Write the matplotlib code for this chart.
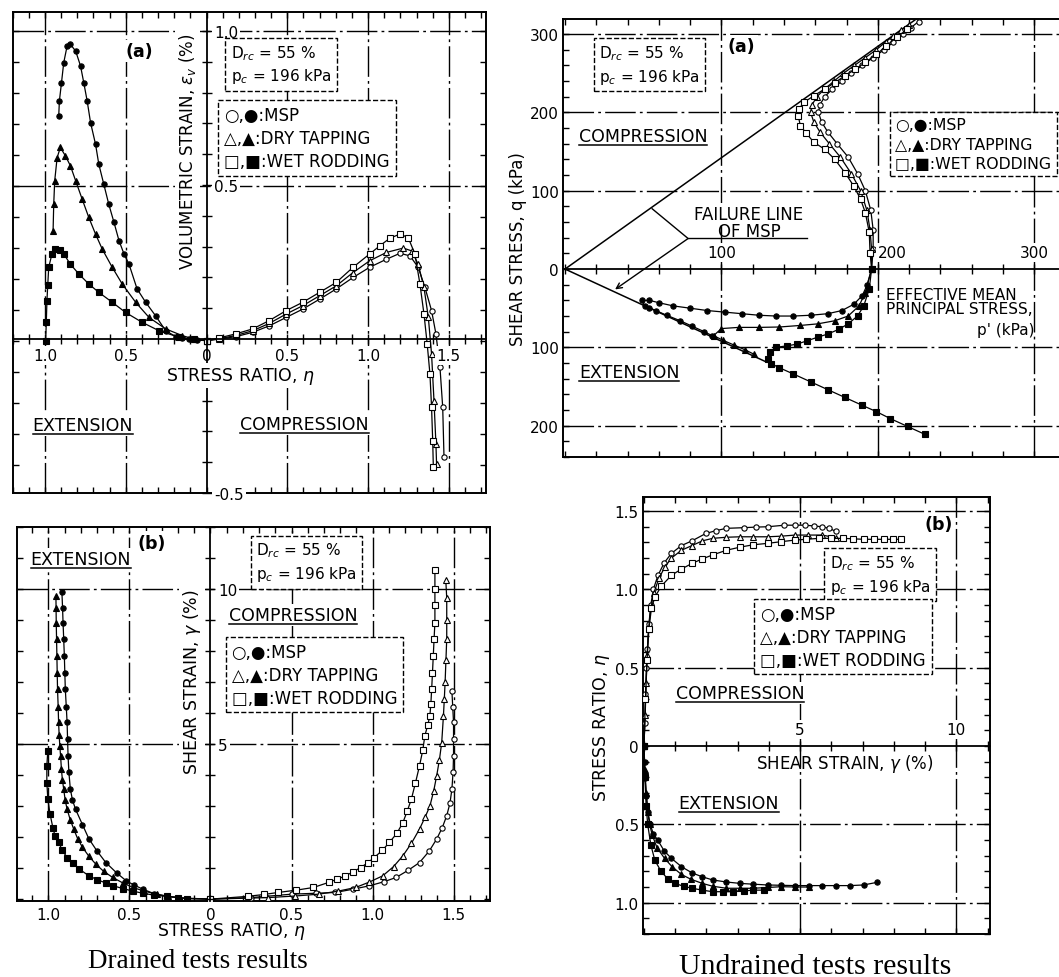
import numpy as np
import matplotlib.pyplot as plt
from matplotlib.ticker import MultipleLocator
from matplotlib.lines import Line2D

plt.rcParams['font.family'] = ['DejaVu Sans']
plt.rcParams['mathtext.fontset'] = 'dejavusans'

# ---------------- drained (a): stress ratio eta vs volumetric strain (%) ----------------
# extension branches have eta < 0 (filled symbols), compression eta > 0 (open symbols)
dv_msp_ext = np.array([(0, 0), (-0.06, 0.002), (-0.108, 0.005), (-0.15, 0.009), (-0.19, 0.013),
                       (-0.253, 0.032), (-0.315, 0.08), (-0.377, 0.124), (-0.43, 0.167), (-0.48, 0.247),
                       (-0.511, 0.28), (-0.542, 0.323), (-0.573, 0.382), (-0.605, 0.44), (-0.636, 0.505),
                       (-0.667, 0.57), (-0.687, 0.634), (-0.718, 0.704), (-0.739, 0.774), (-0.76, 0.833),
                       (-0.78, 0.887), (-0.81, 0.935), (-0.843, 0.957), (-0.863, 0.952), (-0.884, 0.898),
                       (-0.898, 0.833), (-0.911, 0.774), (-0.915, 0.726)])
dv_dt_ext = np.array([(0, 0), (-0.07, 0.004), (-0.149, 0.016), (-0.253, 0.038), (-0.356, 0.075),
                      (-0.439, 0.124), (-0.522, 0.183), (-0.584, 0.237), (-0.646, 0.296), (-0.687, 0.344),
                      (-0.729, 0.398), (-0.77, 0.457), (-0.81, 0.516), (-0.843, 0.565), (-0.874, 0.597),
                      (-0.905, 0.624), (-0.925, 0.591), (-0.94, 0.516), (-0.946, 0.441), (-0.95, 0.355)])
dv_wr_ext = np.array([(0, 0), (-0.08, 0.004), (-0.17, 0.011), (-0.294, 0.032), (-0.398, 0.059),
                      (-0.501, 0.091), (-0.584, 0.124), (-0.667, 0.156), (-0.729, 0.183), (-0.79, 0.215),
                      (-0.843, 0.247), (-0.884, 0.28), (-0.91, 0.293), (-0.936, 0.296), (-0.957, 0.28),
                      (-0.977, 0.237), (-0.983, 0.18), (-0.988, 0.129), (-0.992, 0.06), (-0.996, 0.0)])
dv_msp_comp = np.array([(0, 0), (0.079, 0.005), (0.182, 0.013), (0.286, 0.027), (0.389, 0.048),
                        (0.493, 0.075), (0.596, 0.102), (0.7, 0.134), (0.803, 0.167), (0.907, 0.204),
                        (1.01, 0.237), (1.114, 0.263), (1.197, 0.282), (1.259, 0.274), (1.31, 0.237),
                        (1.352, 0.172), (1.393, 0.097), (1.42, 0.022), (1.445, -0.086), (1.462, -0.215),
                        (1.47, -0.376)])
dv_dt_comp = np.array([(0, 0), (0.079, 0.006), (0.182, 0.017), (0.286, 0.032), (0.389, 0.056),
                       (0.493, 0.086), (0.596, 0.113), (0.7, 0.145), (0.803, 0.177), (0.907, 0.22),
                       (1.01, 0.258), (1.114, 0.285), (1.218, 0.299), (1.269, 0.29), (1.31, 0.247),
                       (1.346, 0.172), (1.373, 0.075), (1.393, -0.043), (1.408, -0.194), (1.42, -0.333),
                       (1.424, -0.398)])
dv_wr_comp = np.array([(0, 0), (0.079, 0.009), (0.182, 0.022), (0.286, 0.038), (0.389, 0.065),
                       (0.493, 0.097), (0.596, 0.124), (0.7, 0.156), (0.803, 0.188), (0.907, 0.237),
                       (1.01, 0.28), (1.072, 0.306), (1.135, 0.331), (1.197, 0.344), (1.248, 0.333),
                       (1.29, 0.28), (1.321, 0.183), (1.346, 0.086), (1.366, -0.011), (1.383, -0.108),
                       (1.393, -0.215), (1.4, -0.323), (1.404, -0.409)])

# ---------------- undrained (a): effective stress paths p' vs q (kPa) ----------------
up_msp_comp = np.array([(196, 0), (197, 25), (197, 50), (195.5, 75), (192, 100), (187, 122), (181, 143),
                        (174, 160), (168, 175), (164, 188), (162, 200), (163, 210), (166, 220), (171, 230),
                        (177, 240), (183, 250), (190, 260), (197, 270), (204, 280), (210, 290), (216, 300),
                        (221, 308), (226, 316)])
up_dt_comp = np.array([(196, 0), (196, 25), (195, 50), (193, 75), (189, 100), (183, 122), (176, 143),
                       (169, 160), (163, 175), (159, 188), (157, 200), (158, 210), (161, 220), (166, 230),
                       (172, 240), (178, 250), (185, 260), (192, 270), (199, 280), (205, 290), (210, 298),
                       (215, 305), (220, 312)])
up_wr_comp = np.array([(196, 0), (195, 21), (194.5, 47), (192, 72), (189, 89), (184.6, 106), (179, 123),
                       (172.5, 140), (166, 153), (159, 162), (154, 174), (150.5, 183), (149, 196),
                       (149.5, 204), (152.7, 213), (159, 221), (166, 230), (172.5, 238), (179, 247),
                       (185.7, 255), (192, 264), (199, 274), (205.5, 285), (212, 296), (218.7, 306)])
up_msp_ext = np.array([(196, 0), (193, -21), (190, -34), (184.6, -45), (177, -53), (168, -57), (157, -59),
                       (146, -60), (135, -60), (124, -59), (113, -57), (102, -55), (91, -53), (80, -50),
                       (69, -47), (60, -43), (54, -40), (49, -40), (51, -47), (54, -49.5), (58, -53),
                       (65, -59), (73.6, -66), (81.3, -73), (89, -80), (94, -85)])
up_dt_ext = np.array([(196, 0), (192, -30), (188, -47), (181, -60), (172.5, -66), (161.5, -70),
                      (150.5, -72), (137, -74), (124, -74.5), (111, -74.5), (100, -76), (95, -85),
                      (101, -91), (108, -97), (115, -103), (121, -109)])
up_wr_ext = np.array([(196, 0), (194.5, -25.5), (191, -47), (187, -60), (181, -70), (175, -77), (168, -83),
                      (161.5, -87), (155, -91.5), (148, -96), (142, -98), (135, -100), (131, -106),
                      (130, -115), (132, -121), (137, -126), (146, -134), (157, -144), (168, -154),
                      (179, -164), (190, -174), (199, -182), (208, -191), (219, -201), (230, -211)])
fail_comp = np.array([(0, 0), (230, 327)])
fail_ext = np.array([(0, 0), (128, -118)])

# ---------------- drained (b): stress ratio eta vs shear strain (%) ----------------
ds_msp_ext = np.array([(0, 0), (-0.146, 0.02), (-0.27, 0.09), (-0.35, 0.18), (-0.417, 0.32), (-0.47, 0.45),
                       (-0.52, 0.59), (-0.58, 0.85), (-0.646, 1.18), (-0.7, 1.55), (-0.75, 1.94),
                       (-0.79, 2.4), (-0.833, 2.9), (-0.852, 3.2), (-0.865, 3.55), (-0.874, 4.1),
                       (-0.879, 4.62), (-0.882, 5.15), (-0.885, 5.7), (-0.89, 6.2), (-0.896, 6.77),
                       (-0.899, 7.3), (-0.902, 7.85), (-0.906, 8.4), (-0.91, 8.92), (-0.913, 9.4),
                       (-0.917, 9.9)])
ds_dt_ext = np.array([(0, 0), (-0.1875, 0.04), (-0.26, 0.09), (-0.333, 0.16), (-0.41, 0.26), (-0.479, 0.376),
                      (-0.54, 0.52), (-0.604, 0.7), (-0.66, 0.9), (-0.708, 1.13), (-0.75, 1.38),
                      (-0.79, 1.67), (-0.82, 1.95), (-0.844, 2.26), (-0.865, 2.55), (-0.885, 2.9),
                      (-0.897, 3.2), (-0.906, 3.55), (-0.914, 3.85), (-0.92, 4.19), (-0.925, 4.6),
                      (-0.93, 4.95), (-0.934, 5.3), (-0.9375, 5.7), (-0.94, 6.2), (-0.944, 6.77),
                      (-0.946, 7.3), (-0.948, 7.85), (-0.95, 8.4), (-0.952, 8.92), (-0.953, 9.4),
                      (-0.954, 9.78)])
ds_wr_ext = np.array([(0, 0), (-0.146, 0.02), (-0.2, 0.05), (-0.27, 0.09), (-0.35, 0.13), (-0.417, 0.19),
                      (-0.48, 0.26), (-0.54, 0.34), (-0.6, 0.43), (-0.646, 0.52), (-0.7, 0.63),
                      (-0.75, 0.75), (-0.81, 0.97), (-0.85, 1.15), (-0.885, 1.34), (-0.915, 1.58),
                      (-0.9375, 1.83), (-0.96, 2.05), (-0.973, 2.31), (-0.99, 2.74), (-1.004, 3.23),
                      (-1.01, 3.76), (-1.01, 4.3), (-1.004, 4.78)])
ds_msp_comp = np.array([(0, 0), (0.25, 0.05), (0.5, 0.16), (0.65, 0.19), (0.77, 0.215), (0.88, 0.32),
                        (0.98, 0.43), (1.07, 0.56), (1.146, 0.7), (1.22, 0.93), (1.29, 1.18), (1.35, 1.55),
                        (1.396, 1.94), (1.43, 2.3), (1.458, 2.69), (1.478, 3.1), (1.49, 3.55),
                        (1.497, 4.1), (1.5, 4.62), (1.5, 5.15), (1.5, 5.7), (1.495, 6.2), (1.49, 6.7)])
ds_dt_comp = np.array([(0, 0), (0.354, 0.05), (0.52, 0.1), (0.667, 0.16), (0.79, 0.26), (0.896, 0.376),
                       (0.98, 0.55), (1.0625, 0.75), (1.13, 1.05), (1.1875, 1.4), (1.24, 1.8),
                       (1.29, 2.26), (1.325, 2.65), (1.354, 3.0), (1.378, 3.5), (1.396, 3.98),
                       (1.413, 4.5), (1.427, 5.05), (1.4375, 5.9), (1.443, 6.45), (1.448, 7.0),
                       (1.453, 7.7), (1.458, 8.4), (1.458, 9.0), (1.458, 9.7), (1.452, 10.3)])
ds_wr_comp = np.array([(0, 0), (0.229, 0.09), (0.33, 0.15), (0.417, 0.215), (0.53, 0.29), (0.635, 0.376),
                       (0.73, 0.54), (0.78, 0.64), (0.833, 0.75), (0.88, 0.88), (0.927, 1.02),
                       (0.97, 1.17), (1.01, 1.34), (1.06, 1.57), (1.104, 1.83), (1.15, 2.12),
                       (1.1875, 2.47), (1.215, 2.85), (1.24, 3.23), (1.265, 3.75), (1.29, 4.3),
                       (1.31, 4.8), (1.323, 5.27), (1.34, 5.6), (1.354, 5.91), (1.36, 6.3), (1.365, 6.77),
                       (1.37, 7.3), (1.375, 7.85), (1.38, 8.4), (1.385, 8.92), (1.385, 9.5),
                       (1.385, 10.0), (1.385, 10.6)])

# ---------------- undrained (b): shear strain (%) vs stress ratio eta ----------------
us_msp_comp = np.array([(0, 0), (0.03, 0.15), (0.05, 0.33), (0.08, 0.5), (0.11, 0.62), (0.16, 0.78),
                        (0.22, 0.9), (0.3, 1.0), (0.45, 1.09), (0.65, 1.17), (0.88, 1.23), (1.2, 1.28),
                        (1.54, 1.31), (1.98, 1.357), (2.3, 1.375), (2.64, 1.39), (3.19, 1.394),
                        (3.6, 1.398), (3.96, 1.4), (4.5, 1.41), (4.85, 1.41), (5.16, 1.41), (5.45, 1.405),
                        (5.7, 1.4), (5.93, 1.39), (6.15, 1.37)])
us_dt_comp = np.array([(0, 0), (0.04, 0.2), (0.07, 0.4), (0.1, 0.58), (0.15, 0.75), (0.22, 0.88),
                       (0.32, 0.98), (0.48, 1.07), (0.66, 1.14), (0.88, 1.2), (1.2, 1.25), (1.54, 1.28),
                       (1.87, 1.31), (2.2, 1.326), (2.64, 1.333), (3.08, 1.336), (3.5, 1.336),
                       (3.96, 1.336), (4.4, 1.34), (4.84, 1.347), (5.25, 1.347), (5.7, 1.347),
                       (6.15, 1.33)])
us_wr_comp = np.array([(0, 0), (0.05, 0.3), (0.1, 0.55), (0.16, 0.75), (0.24, 0.88), (0.35, 0.95),
                       (0.55, 1.02), (0.88, 1.09), (1.2, 1.13), (1.54, 1.166), (1.87, 1.195), (2.2, 1.22),
                       (2.64, 1.25), (3.08, 1.27), (3.5, 1.285), (3.96, 1.294), (4.4, 1.305),
                       (4.84, 1.315), (5.2, 1.32), (5.6, 1.326), (6.0, 1.326), (6.37, 1.326),
                       (6.7, 1.323), (7.03, 1.32), (7.35, 1.32), (7.7, 1.32), (7.97, 1.32), (8.24, 1.32)])
us_msp_ext = np.array([(0, 0), (0.02, -0.1), (0.04, -0.206), (0.08, -0.32), (0.13, -0.42), (0.2, -0.5),
                       (0.3, -0.56), (0.44, -0.6), (0.65, -0.67), (0.88, -0.717), (1.2, -0.77),
                       (1.54, -0.81), (1.87, -0.835), (2.2, -0.855), (2.64, -0.868), (3.08, -0.877),
                       (3.5, -0.882), (3.96, -0.887), (4.4, -0.889), (4.84, -0.891), (5.27, -0.891),
                       (5.71, -0.891), (6.15, -0.891), (6.6, -0.891), (7.03, -0.887), (7.47, -0.87)])
us_dt_ext = np.array([(0, 0), (0.03, -0.15), (0.07, -0.3), (0.12, -0.42), (0.18, -0.5), (0.27, -0.57),
                      (0.42, -0.65), (0.66, -0.717), (0.9, -0.77), (1.2, -0.82), (1.5, -0.85),
                      (1.87, -0.877), (2.2, -0.895), (2.64, -0.908), (3.08, -0.908), (3.5, -0.908),
                      (3.96, -0.903), (4.4, -0.898), (4.84, -0.9), (5.27, -0.9)])
us_wr_ext = np.array([(0, 0), (0.03, -0.2), (0.07, -0.38), (0.12, -0.5), (0.22, -0.63), (0.35, -0.73),
                      (0.55, -0.8), (0.77, -0.85), (0.99, -0.877), (1.27, -0.895), (1.54, -0.908),
                      (1.87, -0.92), (2.2, -0.93), (2.53, -0.93), (2.86, -0.93), (3.19, -0.925),
                      (3.5, -0.92), (3.85, -0.92)])

# tick labels
eta_ticks = [-1.0, -0.5, 0, 0.5, 1.0, 1.5]
eta_labels = ['1.0', '0.5', '0', '0.5', '1.0', '1.5']
ev_ticks = [1.0, 0.5, -0.5]
ev_labels = ['1.0', '0.5', '-0.5']
q_ticks = [-200, -100, 0, 100, 200, 300]
q_labels = ['200', '100', '0', '100', '200', '300']
p_ticks = [100, 200, 300]
p_labels = ['100', '200', '300']
gam_ticks = [5, 10]
gam_labels = ['5', '10']
eta_u_ticks = [-1.0, -0.5, 0, 0.5, 1.0, 1.5]
eta_u_labels = ['1.0', '0.5', '0', '0.5', '1.0', '1.5']

legend_txt = '○,●:MSP\n△,▲:DRY TAPPING\n□,■:WET RODDING'
cond_txt = 'D$_{rc}$ = 55 %\np$_c$ = 196 kPa'

W, H = 1059, 978
fig = plt.figure(figsize=(W / 100, H / 100), dpi=100)

GRID = dict(color='black', lw=1.0, ls=(0, (22, 3, 2, 3)), zorder=1)
DASHBOX = dict(boxstyle='square,pad=0.35', fc='white', ec='black', ls='--', lw=1.0)
WHITE = dict(boxstyle='square,pad=0.12', fc='white', ec='none')
under = []


def rect(x0, y0, x1, y1):
    return [x0 / W, 1 - y1 / H, (x1 - x0) / W, (y1 - y0) / H]


def frame(r, xlim, ylim, xmaj, xmin, ymaj, ymin):
    ax = fig.add_axes(r)
    ax.set_xlim(xlim)
    ax.set_ylim(ylim)
    ax.xaxis.set_major_locator(MultipleLocator(xmaj))
    ax.xaxis.set_minor_locator(MultipleLocator(xmin))
    ax.yaxis.set_major_locator(MultipleLocator(ymaj))
    ax.yaxis.set_minor_locator(MultipleLocator(ymin))
    ax.tick_params(which='both', direction='in', top=True, right=True, length=4, width=1,
                   labelsize=11, labelbottom=False, labelleft=False)
    for s in ax.spines.values():
        s.set_linewidth(1.4)
    return ax


def overlay(r, xlim, ylim):
    axc = fig.add_axes(r, facecolor='none')
    axc.set_xlim(xlim)
    axc.set_ylim(ylim)
    for s in axc.spines.values():
        s.set_visible(False)
    axc.set_xticks([])
    axc.set_yticks([])
    return axc


def zero_vaxis(axc, ticks, labels, minor):
    sp = axc.spines['right']
    sp.set_visible(True)
    sp.set_position(('data', 0))
    sp.set_linewidth(1.3)
    axc.yaxis.set_ticks_position('right')
    axc.set_yticks(ticks, labels)
    axc.yaxis.set_minor_locator(MultipleLocator(minor))
    axc.tick_params(axis='y', which='both', direction='inout', length=7, width=1, labelsize=11, pad=2)
    for t in axc.get_yticklabels():
        t.set_bbox(WHITE)


def zero_haxis(axc, ticks, labels, minor, side):
    sp = axc.spines[side]
    sp.set_visible(True)
    sp.set_position(('data', 0))
    sp.set_linewidth(1.3)
    axc.xaxis.set_ticks_position(side)
    axc.set_xticks(ticks, labels)
    axc.xaxis.set_minor_locator(MultipleLocator(minor))
    axc.tick_params(axis='x', which='both', direction='inout', length=7, width=1, labelsize=11, pad=3)
    for t in axc.get_xticklabels():
        t.set_bbox(WHITE)


def curve(ax, pts, marker, filled):
    ax.plot(pts[:, 0], pts[:, 1], color='black', lw=0.9, marker=marker, ms=3.8, mew=0.8,
            mec='black', mfc='black' if filled else 'white', zorder=4)


def grid(ax, xs, ys):
    for x in xs:
        ax.axvline(x, **GRID)
    for y in ys:
        ax.axhline(y, **GRID)


def txt(ax, x, y, s, size=12.5, underline=False, **kw):
    kw.setdefault('ha', 'center')
    kw.setdefault('va', 'center')
    kw.setdefault('bbox', WHITE)
    t = ax.text(x, y, s, fontsize=size, zorder=5, clip_on=False, **kw)
    if underline:
        under.append(t)
    return t


def boxed(ax, x, y, s, size, ls=1.35):
    return ax.text(x, y, s, fontsize=size, ha='left', va='center', linespacing=ls,
                   bbox=DASHBOX, zorder=5)


# ===== drained (a) : volumetric strain =====
ra = rect(12.7, 12.5, 486, 494)
xa, ya = (-1.2, 1.73), (-0.492, 1.063)
ax = frame(ra, xa, ya, 0.5, 0.1, 0.5, 0.1)
grid(ax, [-1.0, -0.5, 0.5, 1.0, 1.5], [0.5, 1.0])
for pts, m in [(dv_msp_ext, 'o'), (dv_dt_ext, '^'), (dv_wr_ext, 's')]:
    curve(ax, pts, m, True)
for pts, m in [(dv_msp_comp, 'o'), (dv_dt_comp, '^'), (dv_wr_comp, 's')]:
    curve(ax, pts, m, False)
axc = overlay(ra, xa, ya)
zero_vaxis(axc, ev_ticks, ev_labels, 0.1)
zero_haxis(axc, eta_ticks, eta_labels, 0.1, 'bottom')
txt(axc, -0.418, 0.935, '(a)', size=12.5, fontweight='bold')
boxed(axc, 0.15, 0.892, cond_txt, 11)
boxed(axc, 0.11, 0.653, legend_txt, 12)
txt(axc, -0.118, 0.613, r'VOLUMETRIC STRAIN, $\varepsilon_v$ (%)', size=12, rotation=90)
txt(axc, 0.213, -0.118, r'STRESS RATIO, $\eta$', size=12.5)
txt(axc, -0.765, -0.28, 'EXTENSION', underline=True)
txt(axc, 0.605, -0.277, 'COMPRESSION', underline=True)

# ===== undrained (a) : stress paths =====
rb = rect(563, 20, 1089, 458)
xb, yb = (-1.3, 335), (-240, 319.3)
ax = frame(rb, xb, yb, 100, 20, 100, 20)
ax.set_yticks(q_ticks, q_labels)
ax.tick_params(axis='y', labelleft=True, pad=3)
grid(ax, [100, 200, 300], [-200, -100, 100, 200, 300])
ax.plot(fail_comp[:, 0], fail_comp[:, 1], color='black', lw=1.1, zorder=3)
ax.plot(fail_ext[:, 0], fail_ext[:, 1], color='black', lw=1.1, zorder=3)
for pts, m in [(up_msp_comp, 'o'), (up_dt_comp, '^'), (up_wr_comp, 's')]:
    curve(ax, pts, m, False)
for pts, m in [(up_msp_ext, 'o'), (up_dt_ext, '^'), (up_wr_ext, 's')]:
    curve(ax, pts, m, True)
axc = overlay(rb, xb, yb)
zero_haxis(axc, p_ticks, p_labels, 20, 'top')
axc.get_xticklabels()[1].set_ha('left')
axc.text(-0.0856, 0.477, 'SHEAR STRESS, q (kPa)', transform=axc.transAxes, rotation=90,
         ha='center', va='center', fontsize=12)
boxed(axc, 22, 261.5, cond_txt, 11)
txt(axc, 113, 285, '(a)', fontweight='bold')
boxed(axc, 211, 159.5, legend_txt, 11.3)
txt(axc, 49.8, 170, 'COMPRESSION', underline=True)
txt(axc, 41, -132, 'EXTENSION', underline=True)
txt(axc, 117.6, 70, 'FAILURE LINE', size=12)
txt(axc, 118, 49, 'OF MSP', size=12, bbox=None)
axc.plot([55.7, 78.7, 155], [77, 39, 39], color='black', lw=1.0)
axc.annotate('', xy=(32, -26), xytext=(78.7, 39),
             arrowprops=dict(arrowstyle='->', lw=1.0, color='black', shrinkA=0, shrinkB=0))
txt(axc, 205.5, -32, 'EFFECTIVE MEAN', size=11, ha='left', bbox=None)
txt(axc, 205.5, -51, 'PRINCIPAL STRESS,', size=11, ha='left', bbox=None)
txt(axc, 282, -76.6, "p' (kPa)", size=11, bbox=None)

# ===== drained (b) : shear strain =====
rc = rect(16.7, 528, 490, 902)
xc, yc = (-1.196, 1.725), (-0.06, 12.0)
ax = frame(rc, xc, yc, 0.5, 0.1, 5, 1)
ax.set_xticks(eta_ticks, eta_labels)
ax.tick_params(axis='x', labelbottom=True, pad=4)
grid(ax, [-1.0, -0.5, 0.5, 1.0, 1.5], [5, 10])
for pts, m in [(ds_msp_ext, 'o'), (ds_dt_ext, '^'), (ds_wr_ext, 's')]:
    curve(ax, pts, m, True)
for pts, m in [(ds_msp_comp, 'o'), (ds_dt_comp, '^'), (ds_wr_comp, 's')]:
    curve(ax, pts, m, False)
axc = overlay(rc, xc, yc)
zero_vaxis(axc, gam_ticks, gam_labels, 1)
txt(axc, -0.365, 11.5, '(b)', fontweight='bold')
txt(axc, -0.80, 10.97, 'EXTENSION', underline=True)
boxed(axc, 0.28, 10.87, cond_txt, 11)
txt(axc, 0.51, 9.16, 'COMPRESSION', underline=True)
boxed(axc, 0.13, 7.24, legend_txt, 12)
txt(axc, -0.115, 7.04, r'SHEAR STRAIN, $\gamma$ (%)', size=12.5, rotation=90)
txt(axc, 0.13, -1.02, r'STRESS RATIO, $\eta$', size=12.5, bbox=None)

# ===== undrained (b) : stress ratio vs shear strain =====
rd = rect(643, 498, 990, 935)
xd, yd = (-0.03, 11.08), (-1.2, 1.59)
ax = frame(rd, xd, yd, 5, 1, 0.5, 0.1)
ax.set_yticks(eta_u_ticks, eta_u_labels)
ax.tick_params(axis='y', labelleft=True, pad=3)
grid(ax, [5, 10], [-1.0, -0.5, 0.5, 1.0, 1.5])
for pts, m in [(us_msp_comp, 'o'), (us_dt_comp, '^'), (us_wr_comp, 's')]:
    curve(ax, pts, m, False)
for pts, m in [(us_msp_ext, 'o'), (us_dt_ext, '^'), (us_wr_ext, 's')]:
    curve(ax, pts, m, True)
axc = overlay(rd, xd, yd)
zero_haxis(axc, gam_ticks, gam_labels, 1, 'top')
txt(axc, 9.45, 1.42, '(b)', fontweight='bold')
boxed(axc, 5.95, 1.097, cond_txt, 11)
boxed(axc, 3.72, 0.698, legend_txt, 12)
txt(axc, 3.07, 0.336, 'COMPRESSION', underline=True)
txt(axc, 2.72, -0.366, 'EXTENSION', underline=True)
txt(axc, 6.43, -0.11, r'SHEAR STRAIN, $\gamma$ (%)', size=12, bbox=None)
axc.text(-0.121, 0.474, r'STRESS RATIO, $\eta$', transform=axc.transAxes, rotation=90,
         ha='center', va='center', fontsize=12.5)

fig.text(198 / W, 1 - 962 / H, 'Drained tests results', family='Liberation Serif',
         fontsize=19.5, ha='center', va='center')
fig.text(815 / W, 1 - 967 / H, 'Undrained tests results', family='Liberation Serif',
         fontsize=21.5, ha='center', va='center')

# underline the region labels
fig.canvas.draw()
rend = fig.canvas.get_renderer()
for t in under:
    bb = t.get_window_extent(rend)
    y = bb.y0 / fig.bbox.height
    fig.add_artist(Line2D([bb.x0 / fig.bbox.width, bb.x1 / fig.bbox.width], [y, y],
                          color='black', lw=1.1))

fig.savefig('out.png', dpi=100)
